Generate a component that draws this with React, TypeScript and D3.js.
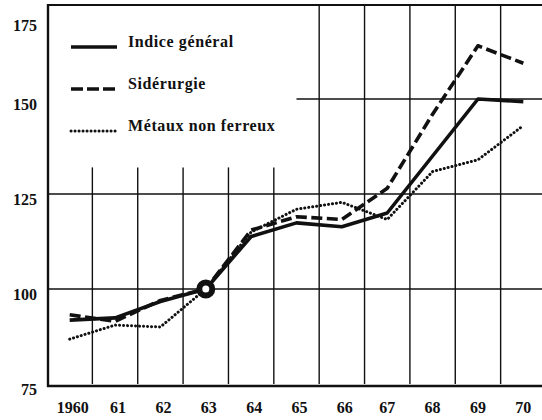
import React, { useEffect, useRef } from "react";
import * as d3 from "d3";

// years on the x axis
const years = [1960, 1961, 1962, 1963, 1964, 1965, 1966, 1967, 1968, 1969, 1970];
const yearLabels = ["1960", "61", "62", "63", "64", "65", "66", "67", "68", "69", "70"];
const yTicks = [75, 100, 125, 150, 175];

// index values (1963 = 100)
const indiceGeneral = [91.8, 92.4, 96.7, 100, 113.8, 117.4, 116.4, 120, 135, 150, 149.3];
const siderurgie = [93.2, 91.5, 97, 100, 115.5, 119, 118.3, 126.5, 146, 164, 159.4];
const metauxNonFerreux = [86.8, 90.5, 90, 100, 115, 121, 122.8, 118.3, 130.9, 134, 143];

const seriesNames = ["Indice général", "Sidérurgie", "Métaux non ferreux"];

function App() {
  const svgRef = useRef<SVGSVGElement>(null);

  useEffect(() => {
    const width = 542;
    const height = 420;
    const font = "'Liberation Serif', 'DejaVu Serif', serif";

    const svg = d3.select(svgRef.current)
      .attr("width", width)
      .attr("height", height)
      .style("background", "#fff");
    svg.selectAll("*").remove();

    // bands: one per year, data points in the middle of each band
    const x = d3.scaleBand<number>()
      .domain(years)
      .range([47, 546])
      .padding(0);
    const xc = (yr: number) => (x(yr) as number) + x.bandwidth() / 2;

    const y = d3.scaleLinear()
      .domain([75, 175])
      .range([384, 4]);

    const grid = svg.append("g").attr("stroke", "#111").attr("fill", "none");

    // vertical separators between years
    years.slice(1).forEach(yr => {
      const top = yr <= 1965 ? y(132) : y(175);
      grid.append("line")
        .attr("x1", x(yr) as number).attr("x2", x(yr) as number)
        .attr("y1", top).attr("y2", y(75))
        .attr("stroke-width", 1.4);
    });

    // horizontal rules
    grid.append("line").attr("x1", 48).attr("x2", width).attr("y1", y(100)).attr("y2", y(100)).attr("stroke-width", 1.6);
    grid.append("line").attr("x1", 48).attr("x2", width).attr("y1", y(125)).attr("y2", y(125)).attr("stroke-width", 1.6);
    grid.append("line").attr("x1", xc(1965)).attr("x2", width).attr("y1", y(150)).attr("y2", y(150)).attr("stroke-width", 1.4);

    // frame: top, left, bottom
    grid.append("line").attr("x1", 48).attr("x2", width).attr("y1", y(175) + 1).attr("y2", y(175) + 1).attr("stroke-width", 2.2);
    grid.append("line").attr("x1", 48).attr("x2", 48).attr("y1", y(175)).attr("y2", y(75) + 3).attr("stroke-width", 2.4);
    grid.append("line").attr("x1", 47).attr("x2", width).attr("y1", y(75) + 2).attr("y2", y(75) + 2).attr("stroke-width", 2.4);

    // y tick labels
    svg.append("g").selectAll("text")
      .data(yTicks)
      .join("text")
      .attr("x", 37)
      .attr("y", d => Math.max(y(d) + 11, 31))
      .attr("text-anchor", "end")
      .attr("font-family", font)
      .attr("font-weight", "bold")
      .attr("font-size", 16)
      .attr("fill", "#111")
      .text(d => d);

    // x tick labels
    svg.append("g").selectAll("text")
      .data(years)
      .join("text")
      .attr("x", (d, i) => xc(d) + (i < 7 ? 3 : 0))
      .attr("y", 413)
      .attr("text-anchor", "middle")
      .attr("font-family", font)
      .attr("font-weight", "bold")
      .attr("font-size", 16)
      .attr("fill", "#111")
      .text((d, i) => yearLabels[i]);

    const line = d3.line<number>()
      .x((d, i) => xc(years[i]))
      .y(d => y(d))
      .curve(d3.curveLinear);

    const styles = [
      { data: indiceGeneral, width: 3.6, dash: null, cap: "butt" },
      { data: siderurgie, width: 3.6, dash: "11 4.5", cap: "butt" },
      { data: metauxNonFerreux, width: 3, dash: "0.1 3.9", cap: "round" },
    ];

    styles.forEach(s => {
      svg.append("path")
        .datum(s.data)
        .attr("d", line)
        .attr("fill", "none")
        .attr("stroke", "#111")
        .attr("stroke-width", s.width)
        .attr("stroke-dasharray", s.dash)
        .attr("stroke-linecap", s.cap)
        .attr("stroke-linejoin", "round");
    });

    // base year marker
    svg.append("circle")
      .attr("cx", xc(1963))
      .attr("cy", y(100))
      .attr("r", 6.5)
      .attr("fill", "#fff")
      .attr("stroke", "#111")
      .attr("stroke-width", 6);

    // legend
    const legend = svg.append("g");
    const legendY = [47, 89, 131];
    styles.forEach((s, i) => {
      legend.append("line")
        .attr("x1", 71).attr("x2", 117)
        .attr("y1", legendY[i]).attr("y2", legendY[i])
        .attr("stroke", "#111")
        .attr("stroke-width", s.width)
        .attr("stroke-dasharray", i === 1 ? "12 4" : s.dash)
        .attr("stroke-linecap", s.cap);
      legend.append("text")
        .attr("x", 128)
        .attr("y", legendY[i] + 0)
        .attr("font-family", font)
        .attr("font-weight", "bold")
        .attr("font-size", 16)
        .attr("letter-spacing", 0.6)
        .attr("fill", "#111")
        .text(seriesNames[i]);
    });
  }, []);

  return (
    <div className="charts">
      <svg ref={svgRef} style={{ position: "absolute", left: 0, top: 0, display: "block" }}></svg>
    </div>
  );
}

export default App;
